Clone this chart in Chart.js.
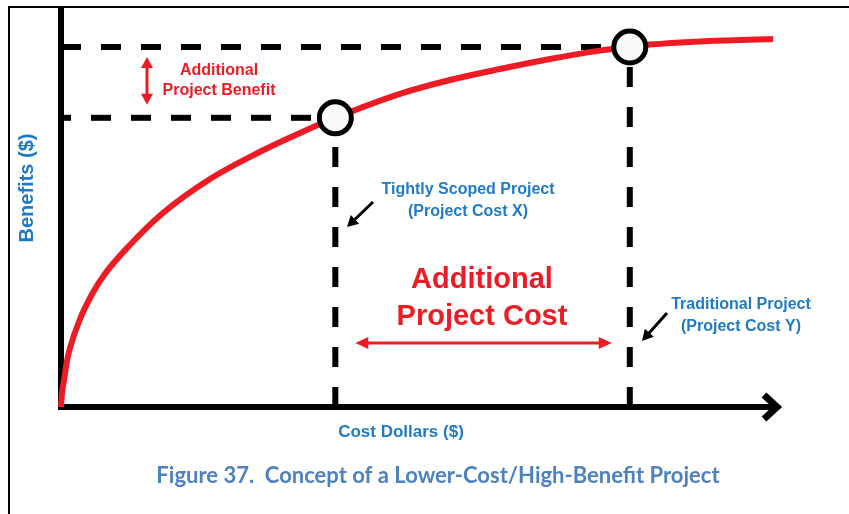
<!DOCTYPE html>
<html>
<head>
<meta charset="utf-8">
<script src="https://cdn.jsdelivr.net/npm/chart.js"></script>
<style>
  html, body { margin: 0; padding: 0; background: #fff; }
  canvas { display: block; }
</style>
</head>
<body>
<canvas id="benefitChart" width="849" height="514"></canvas>
<script>
// Benefit curve, points taken along the red line
const costValues = [0, 0.14, 0.42, 0.83, 1.25, 2.64, 4.31, 6.11, 9.31, 14.03, 20.97, 27.64, 33.19, 38.1, 47.08, 54.03, 60.97, 67.92, 74.86, 79.0, 81.81, 88.75, 98.89];
const benefitValues = [0, 3.5, 6.75, 11.5, 14.75, 22.0, 28.2, 33.3, 40.0, 48.3, 57.3, 63.8, 68.5, 72.3, 78.3, 81.75, 84.5, 87.0, 89.1, 90.0, 90.6, 91.4, 92.0];

// The two projects marked on the curve (X = tightly scoped, Y = traditional)
const projectCosts = [38.1, 79.0];
const projectBenefits = [72.3, 90.0];

const RED = '#ed1c24';
const BLUE = '#1f7bc7';
const CAPTION = '#4f81bd';
const LABEL_FONT = '"Liberation Sans", Arial, sans-serif';

function toPoints(xs, ys) {
    return xs.map((x, i) => ({ x: x, y: ys[i] }));
}

function guide(points, offset) {
    return {
        data: points,
        showLine: true,
        borderColor: '#000',
        borderWidth: 6,
        borderDash: [20, 20],
        borderDashOffset: offset || 0,
        borderCapStyle: 'butt',
        pointRadius: 0,
        clip: false,
        order: 3
    };
}

// Filled triangle head at (x2, y2), pointing away from (x1, y1)
function arrowHead(ctx, x1, y1, x2, y2, len, half) {
    const a = Math.atan2(y2 - y1, x2 - x1);
    ctx.beginPath();
    ctx.moveTo(x2, y2);
    ctx.lineTo(x2 - len * Math.cos(a) + half * Math.sin(a), y2 - len * Math.sin(a) - half * Math.cos(a));
    ctx.lineTo(x2 - len * Math.cos(a) - half * Math.sin(a), y2 - len * Math.sin(a) + half * Math.cos(a));
    ctx.closePath();
    ctx.fill();
}

function arrow(ctx, x1, y1, x2, y2, color, width, len, half, both) {
    const a = Math.atan2(y2 - y1, x2 - x1);
    ctx.save();
    ctx.strokeStyle = color;
    ctx.fillStyle = color;
    ctx.lineWidth = width;
    ctx.beginPath();
    ctx.moveTo(both ? x1 + (len - 2) * Math.cos(a) : x1, both ? y1 + (len - 2) * Math.sin(a) : y1);
    ctx.lineTo(x2 - (len - 2) * Math.cos(a), y2 - (len - 2) * Math.sin(a));
    ctx.stroke();
    arrowHead(ctx, x1, y1, x2, y2, len, half);
    if (both) arrowHead(ctx, x2, y2, x1, y1, len, half);
    ctx.restore();
}

function textLines(ctx, lines, x, y, gap, font, color) {
    ctx.save();
    ctx.font = font;
    ctx.fillStyle = color;
    ctx.textAlign = 'center';
    ctx.textBaseline = 'middle';
    lines.forEach((line, i) => ctx.fillText(line, x, y + i * gap));
    ctx.restore();
}

// Frame and axes go under the datasets
const axesPlugin = {
    id: 'axes',
    beforeDraw(chart) {
        const ctx = chart.ctx;
        ctx.save();
        ctx.fillStyle = '#fff';
        ctx.fillRect(0, 0, chart.width, chart.height);
        ctx.strokeStyle = '#000';
        ctx.lineWidth = 2;
        ctx.beginPath();
        ctx.moveTo(9, chart.height);
        ctx.lineTo(9, 7);
        ctx.lineTo(chart.width, 7);
        ctx.stroke();
        ctx.restore();
    },
    beforeDatasetsDraw(chart) {
        const ctx = chart.ctx;
        const xs = chart.scales.x, ys = chart.scales.y;
        const x0 = xs.getPixelForValue(0), y0 = ys.getPixelForValue(0);
        const xEnd = xs.getPixelForValue(xs.max);
        ctx.save();
        ctx.strokeStyle = '#000';
        ctx.lineWidth = 6;
        ctx.beginPath();
        ctx.moveTo(x0, 7);
        ctx.lineTo(x0, y0 + 3);
        ctx.moveTo(x0 - 3, y0);
        ctx.lineTo(xEnd - 4, y0);
        ctx.stroke();
        // open arrowhead at the end of the cost axis
        ctx.lineWidth = 7;
        ctx.lineJoin = 'miter';
        ctx.beginPath();
        ctx.moveTo(xEnd - 17, y0 - 12);
        ctx.lineTo(xEnd - 4, y0);
        ctx.lineTo(xEnd - 17, y0 + 12);
        ctx.stroke();
        ctx.restore();
    }
};

// Labels and pointer arrows on top
const notesPlugin = {
    id: 'notes',
    afterDatasetsDraw(chart) {
        const ctx = chart.ctx;
        const xs = chart.scales.x, ys = chart.scales.y;
        const px = v => xs.getPixelForValue(v);
        const py = v => ys.getPixelForValue(v);
        const xX = px(projectCosts[0]), xY = px(projectCosts[1]);
        const yX = py(projectBenefits[0]), yY = py(projectBenefits[1]);

        // benefit gap between the two projects
        arrow(ctx, 147, yY + 10, 147, yX - 13, RED, 3, 11, 6, true);
        textLines(ctx, ['Additional', 'Project Benefit'], 219, 71, 20, 'bold 16px ' + LABEL_FONT, RED);

        // cost gap between the two projects
        const yGap = py(16);
        arrow(ctx, xX + 20, yGap, xY - 18, yGap, RED, 3, 13, 6, true);
        textLines(ctx, ['Additional', 'Project Cost'], 482, 280, 37, 'bold 29px ' + LABEL_FONT, RED);

        // project call-outs
        arrow(ctx, 373, 202, 347, 227, '#000', 3, 11, 6, false);
        textLines(ctx, ['Tightly Scoped Project', '(Project Cost X)'], 468, 190, 22, 'bold 16px ' + LABEL_FONT, BLUE);
        arrow(ctx, 667, 313, 642, 341, '#000', 3, 11, 6, false);
        textLines(ctx, ['Traditional Project', '(Project Cost Y)'], 741, 305, 22, 'bold 16px ' + LABEL_FONT, BLUE);

        // axis titles
        textLines(ctx, ['Cost Dollars ($)'], 401, 432, 0, 'bold 17px ' + LABEL_FONT, BLUE);
        ctx.save();
        ctx.translate(27, 188);
        ctx.rotate(-Math.PI / 2);
        textLines(ctx, ['Benefits ($)'], 0, 0, 0, 'bold 20px ' + LABEL_FONT, BLUE);
        ctx.restore();

        // figure caption
        textLines(ctx, ['Figure 37.  Concept of a Lower-Cost/High-Benefit Project'], 438, 476, 0, 'bold 22px Lato, "Open Sans", sans-serif', CAPTION);
    }
};

const ctx = document.getElementById('benefitChart').getContext('2d');
const myChart = new Chart(ctx, {
    type: 'scatter',
    data: {
        datasets: [
            {
                // project markers
                data: toPoints(projectCosts, projectBenefits),
                pointRadius: 16,
                pointBorderWidth: 5,
                pointBorderColor: '#000',
                pointBackgroundColor: '#fafafa',
                clip: false,
                order: 1
            },
            {
                // benefit curve
                data: toPoints(costValues, benefitValues),
                showLine: true,
                borderColor: RED,
                borderWidth: 6,
                cubicInterpolationMode: 'monotone',
                pointRadius: 0,
                clip: false,
                order: 2
            },
            guide([{ x: 0, y: projectBenefits[1] }, { x: projectCosts[1], y: projectBenefits[1] }], 0),
            guide([{ x: 0, y: projectBenefits[0] }, { x: projectCosts[0], y: projectBenefits[0] }], 10),
            guide([{ x: projectCosts[0], y: 0 }, { x: projectCosts[0], y: projectBenefits[0] }], 0),
            guide([{ x: projectCosts[1], y: 0 }, { x: projectCosts[1], y: projectBenefits[1] }], 0)
        ]
    },
    options: {
        responsive: false,
        animation: false,
        layout: { autoPadding: false, padding: { left: 61, top: 7, right: 68, bottom: 107 } },
        scales: {
            x: { type: 'linear', min: 0, max: 100, display: false },
            y: { type: 'linear', min: 0, max: 100, display: false }
        },
        plugins: {
            legend: false,
            tooltip: { enabled: false }
        }
    },
    plugins: [axesPlugin, notesPlugin]
});
</script>
</body>
</html>
